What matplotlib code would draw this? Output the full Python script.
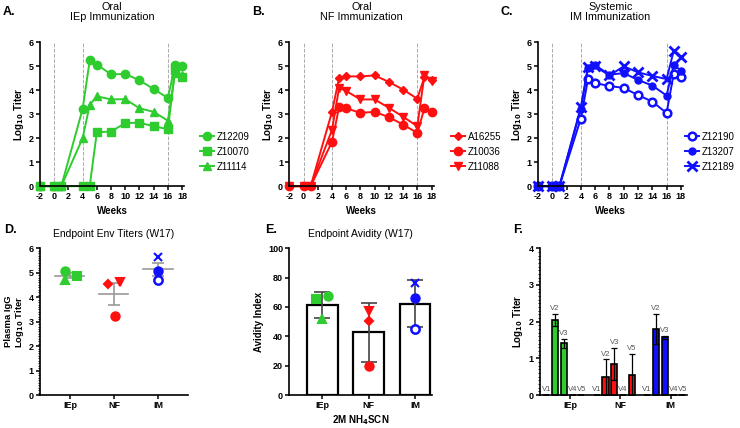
import numpy as np
import matplotlib.pyplot as plt
from matplotlib.ticker import MultipleLocator

plt.rcParams['font.family'] = ['Liberation Sans', 'DejaVu Sans']
plt.rcParams['font.weight'] = 'bold'
plt.rcParams['axes.labelweight'] = 'bold'
plt.rcParams['mathtext.default'] = 'bf'
plt.rcParams['axes.unicode_minus'] = False

GREEN = '#2ecc2e'
RED = '#ff1010'
BLUE = '#1010ff'

weeks = [-2, 0, 1, 4, 5, 6, 8, 10, 12, 14, 16, 17, 18]

# oral IEp
z12209 = [0, 0, 0, 3.22, 5.25, 5.07, 4.67, 4.68, 4.42, 4.05, 3.68, 5.05, 5.03]
z10070 = [0, 0, 0, 0, 0, 2.25, 2.28, 2.63, 2.65, 2.50, 2.38, 4.85, 4.55]
z11114 = [0, 0, 0, 2.00, 3.40, 3.75, 3.62, 3.63, 3.25, 3.10, 2.73, 4.72, 4.65]
# oral NF
a16255 = [0, 0, 0, 3.10, 4.52, 4.58, 4.58, 4.62, 4.35, 4.03, 3.65, 4.55, 4.45]
z10036 = [0, 0, 0, 1.85, 3.30, 3.25, 3.06, 3.10, 2.88, 2.57, 2.22, 3.25, 3.10]
z11088 = [0, 0, 0, 2.35, 4.10, 3.97, 3.62, 3.62, 3.27, 2.90, 2.50, 4.62, 4.40]
# systemic IM
z12190 = [0, 0, 0, 2.82, 4.47, 4.30, 4.18, 4.10, 3.80, 3.53, 3.05, 4.70, 4.55]
z13207 = [0, 0, 0, 3.22, 4.95, 5.05, 4.65, 4.72, 4.43, 4.20, 3.78, 5.07, 4.82]
z12189 = [0, 0, 0, 3.30, 4.97, 5.00, 4.62, 5.00, 4.75, 4.60, 4.47, 5.65, 5.38]

groups = ['IEp', 'NF', 'IM']

# avidity index at W17
avid_iep = [67.5, 65.5, 51.5]
avid_nf = [50.5, 20.0, 57.5]
avid_im = [45.0, 66.0, 76.0]

# V1-V5 titers
vloops = ['V1', 'V2', 'V3', 'V4', 'V5']
v_iep = [0, 2.05, 1.41, 0, 0]
v_iep_err = [0, 0.16, 0.12, 0, 0]
v_nf = [0, 0.48, 0.85, 0, 0.55]
v_nf_err = [0, 0.49, 0.44, 0, 0.57]
v_im = [0, 1.80, 1.57, 0, 0]
v_im_err = [0, 0.41, 0.05, 0, 0]

fig = plt.figure(figsize=(7.4, 4.28), dpi=100)


def style(ax, fs=6.5):
    for s in ['top', 'right']:
        ax.spines[s].set_visible(False)
    for s in ['left', 'bottom']:
        ax.spines[s].set_linewidth(1.2)
    ax.tick_params(labelsize=fs, width=1.1, length=3, pad=1.5)


def time_panel(rect, series, names, markers, color, title, label, legx):
    ax = fig.add_axes(rect)
    for xv in [0, 4, 16]:
        ax.axvline(xv, color='#aaaaaa', ls='--', lw=0.7, zorder=0)
    for ys, nm, mk in zip(series, names, markers):
        m, ms, fc, mew = mk
        ax.plot(weeks, ys, color=color, lw=1.4, marker=m, ms=ms,
                mfc=fc, mec=color, mew=mew, label=nm, clip_on=False)
    ax.set_xlim(-2, 18.3)
    ax.set_ylim(0, 6)
    ax.set_xticks(range(-2, 19, 2))
    ax.set_yticks(range(0, 7))
    ax.set_xlabel('Weeks', fontsize=7, labelpad=3)
    ax.set_ylabel('Log$_{10}$ Titer', fontsize=7, labelpad=2)
    style(ax)
    ax.set_title(title, fontsize=7.8, pad=16, linespacing=1.05)
    ax.legend(loc='center left', bbox_to_anchor=(legx, 0.24), frameon=False,
              prop={'weight': 'normal', 'size': 7}, handlelength=1.4,
              handletextpad=0.35, labelspacing=0.5, borderaxespad=0, borderpad=0)
    fig.text(rect[0] - 0.05, 0.972, label, fontsize=9, fontweight='bold', va='center')
    return ax


time_panel([0.054, 0.565, 0.195, 0.336], [z12209, z10070, z11114],
           ['Z12209', 'Z10070', 'Z11114'],
           [('o', 6, GREEN, 1), ('s', 6, GREEN, 1), ('^', 6, GREEN, 1)],
           GREEN, 'Oral\nIEp Immunization', 'A.', 1.11)
time_panel([0.391, 0.565, 0.195, 0.336], [a16255, z10036, z11088],
           ['A16255', 'Z10036', 'Z11088'],
           [('D', 4.5, RED, 1), ('o', 6, RED, 1), ('v', 6, RED, 1)],
           RED, 'Oral\nNF Immunization', 'B.', 1.12)
time_panel([0.727, 0.565, 0.196, 0.336], [z12190, z13207, z12189],
           ['Z12190', 'Z13207', 'Z12189'],
           [('o', 5.5, 'white', 1.8), ('o', 5, BLUE, 1), ('x', 7, BLUE, 2.0)],
           BLUE, 'Systemic\nIM Immunization', 'C.', 1.015)

# ---- D: endpoint titers W17
axd = fig.add_axes([0.054, 0.077, 0.2, 0.343])
d_vals = [[z12209[11], z10070[11], z11114[11]],
          [a16255[11], z10036[11], z11088[11]],
          [z12190[11], z13207[11], z12189[11]]]
d_style = [[('o', GREEN, GREEN, -0.11), ('s', GREEN, GREEN, 0.16), ('^', GREEN, GREEN, -0.12)],
           [('D', RED, RED, -0.14), ('o', RED, RED, 0.02), ('v', RED, RED, 0.14)],
           [('o', 'white', BLUE, 0.0), ('o', BLUE, BLUE, 0.0), ('x', BLUE, BLUE, 0.0)]]
for i, (vals, sts) in enumerate(zip(d_vals, d_style)):
    mean = np.mean(vals)
    sem = np.std(vals, ddof=1) / np.sqrt(len(vals))
    axd.plot([i - 0.33, i + 0.33], [mean, mean], color='#999999', lw=1.2, zorder=1)
    axd.errorbar(i, mean, yerr=sem, color='#999999', lw=1.2, capsize=4, capthick=1.2, zorder=1)
    for v, (m, fc, ec, dx) in zip(vals, sts):
        ms = 4.5 if m == 'D' else 6
        mew = 1.8 if fc == 'white' else 1.5
        axd.plot(i + dx, v, marker=m, ms=ms, mfc=fc, mec=ec, mew=mew, ls='none', zorder=3)
axd.set_xlim(-0.68, 2.68)
axd.set_ylim(0, 6)
axd.set_xticks(range(3))
axd.set_xticklabels(groups)
axd.yaxis.set_minor_locator(MultipleLocator(0.1))
axd.tick_params(which='minor', length=1.8, width=0.6)
style(axd)
axd.set_ylabel('Plasma IgG\nLog$_{10}$ Titer', fontsize=6.8, labelpad=2, linespacing=1.0)
axd.set_title('Endpoint Env Titers (W17)', fontsize=7.5, pad=8)
fig.text(0.005, 0.463, 'D.', fontsize=9, fontweight='bold', va='center')

# ---- E: avidity
axe = fig.add_axes([0.391, 0.077, 0.193, 0.343])
e_vals = [avid_iep, avid_nf, avid_im]
e_style = [[('o', GREEN, GREEN, 0.13), ('s', GREEN, GREEN, -0.13), ('^', GREEN, GREEN, 0.0)],
           [('D', RED, RED, 0.0), ('o', RED, RED, 0.0), ('v', RED, RED, 0.0)],
           [('o', 'white', BLUE, 0.0), ('o', BLUE, BLUE, 0.0), ('x', BLUE, BLUE, 0.0)]]
for i, (vals, sts) in enumerate(zip(e_vals, e_style)):
    mean = np.mean(vals)
    sd = np.std(vals, ddof=1)
    axe.bar(i, mean, width=0.66, color='white', edgecolor='black', lw=1.6, zorder=1)
    axe.errorbar(i, mean, yerr=sd, color='#444444', lw=1.2, capsize=5.5, capthick=1.2, zorder=2)
    for v, (m, fc, ec, dx) in zip(vals, sts):
        ms = 4.5 if m == 'D' else 6
        mew = 1.8 if fc == 'white' else 1.5
        axe.plot(i + dx, v, marker=m, ms=ms, mfc=fc, mec=ec, mew=mew, ls='none', zorder=3)
axe.set_xlim(-0.71, 2.37)
axe.set_ylim(0, 100)
axe.set_xticks(range(3))
axe.set_xticklabels(groups)
axe.set_yticks(range(0, 101, 20))
style(axe)
axe.set_ylabel('Avidity Index', fontsize=7, labelpad=3)
axe.set_xlabel('2M NH$_4$SCN', fontsize=7, labelpad=2)
axe.set_title('Endpoint Avidity (W17)', fontsize=7.5, pad=8)
fig.text(0.358, 0.463, 'E.', fontsize=9, fontweight='bold', va='center')

# ---- F: V1-V5
axf = fig.add_axes([0.730, 0.077, 0.199, 0.343])
f_vals = [v_iep, v_nf, v_im]
f_errs = [v_iep_err, v_nf_err, v_im_err]
f_cols = [GREEN, RED, BLUE]
gap = 5.75
for g, (vals, errs, col) in enumerate(zip(f_vals, f_errs, f_cols)):
    xs = g * gap + np.arange(len(vloops))
    axf.bar(xs, vals, width=0.7, color=col, edgecolor='black', lw=1.2,
            clip_on=False, zorder=2)
    for x, v, e, nm in zip(xs, vals, errs, vloops):
        if e > 0:
            axf.errorbar(x, v, yerr=e, color='black', lw=0.9, capsize=2.2,
                         capthick=0.9, zorder=3)
        axf.text(x, v + e + 0.05, nm, fontsize=5.5, color='#555555',
                 fontweight='normal', ha='center', va='bottom')
axf.set_xlim(-0.7, 2 * gap + 4.6)
axf.set_ylim(0, 4)
axf.set_xticks([g * gap + 2.7 for g in range(3)])
axf.set_xticklabels(groups)
axf.set_yticks(range(5))
axf.yaxis.set_minor_locator(MultipleLocator(0.1))
axf.tick_params(which='minor', length=1.8, width=0.6)
style(axf)
axf.set_ylabel('Log$_{10}$ Titer', fontsize=7, labelpad=3)
fig.text(0.694, 0.463, 'F.', fontsize=9, fontweight='bold', va='center')

fig.savefig('out.png', dpi=100)
